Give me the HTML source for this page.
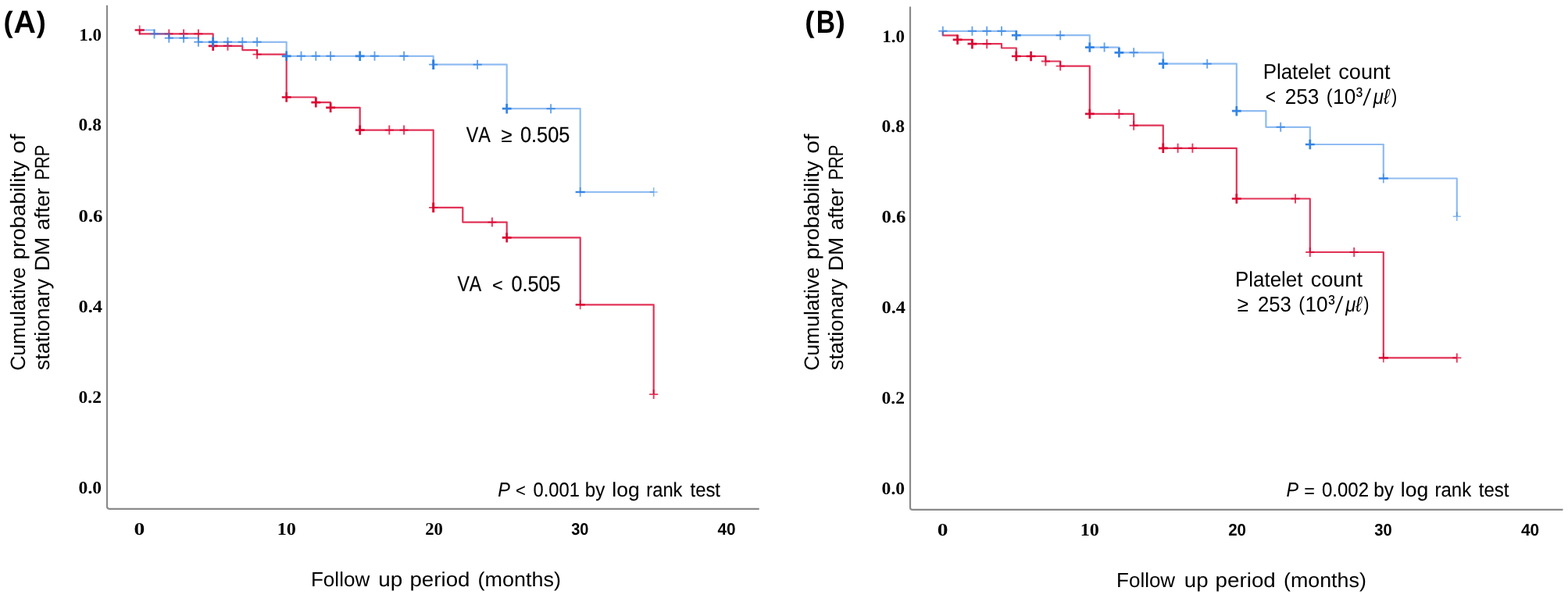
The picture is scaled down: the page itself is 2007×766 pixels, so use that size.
<!DOCTYPE html>
<html lang="en">
<head>
<meta charset="utf-8">
<title>Kaplan-Meier curves: cumulative probability of stationary DM after PRP</title>
<style>
html,body{margin:0;padding:0;background:#fff;}
body{width:2007px;height:766px;overflow:hidden;font-family:"Liberation Sans",sans-serif;}
svg{display:block;filter:blur(0.5px);}
text{white-space:pre;font-kerning:none;font-variant-ligatures:none;text-rendering:geometricPrecision;}
</style>
</head>
<body>
<svg width="2007" height="766" viewBox="0 0 2007 766">
<rect width="2007" height="766" fill="#fff"/>
<g id="chartA">
<path d="M137.00,6.70 V648.80 Q137.00,651.80 140.00,651.80 H971.70" fill="none" stroke="#8a8a8a" stroke-width="2.2" stroke-linejoin="round" stroke-linecap="butt"/>
<path d="M178.70,38.50 H178.70 V43.40 H272.70 V58.80 H310.30 V64.10 H329.10 V69.60 H366.70 V124.50 H404.30 V131.20 H423.10 V137.90 H460.70 V166.60 H554.70 V265.90 H592.30 V284.60 H648.70 V304.40 H742.70 V390.30 H836.70 V505.10" fill="none" stroke="#da002d" stroke-opacity="0.8" stroke-width="2.2" stroke-linejoin="round"/>
<path d="M210.70,43.40 H221.90 M216.30,37.40 V49.40" stroke="#da002d" stroke-opacity="0.77" stroke-width="1.9" fill="none"/>
<path d="M229.50,43.40 H240.70 M235.10,37.40 V49.40" stroke="#da002d" stroke-opacity="0.77" stroke-width="1.9" fill="none"/>
<path d="M248.30,43.40 H259.50 M253.90,37.40 V49.40" stroke="#da002d" stroke-opacity="0.77" stroke-width="1.9" fill="none"/>
<path d="M266.80,58.80 H278.60 M272.70,52.60 V65.00" stroke="#da002d" stroke-opacity="0.95" stroke-width="2.7" fill="none"/>
<path d="M285.90,58.80 H297.10 M291.50,52.80 V64.80" stroke="#da002d" stroke-opacity="0.77" stroke-width="1.9" fill="none"/>
<path d="M323.50,69.60 H334.70 M329.10,63.60 V75.60" stroke="#da002d" stroke-opacity="0.77" stroke-width="1.9" fill="none"/>
<path d="M360.80,124.50 H372.60 M366.70,118.30 V130.70" stroke="#da002d" stroke-opacity="0.95" stroke-width="2.7" fill="none"/>
<path d="M398.40,131.20 H410.20 M404.30,125.00 V137.40" stroke="#da002d" stroke-opacity="0.95" stroke-width="2.7" fill="none"/>
<path d="M417.20,137.90 H429.00 M423.10,131.70 V144.10" stroke="#da002d" stroke-opacity="0.95" stroke-width="2.7" fill="none"/>
<path d="M454.80,166.60 H466.60 M460.70,160.40 V172.80" stroke="#da002d" stroke-opacity="0.95" stroke-width="2.7" fill="none"/>
<path d="M492.70,166.60 H503.90 M498.30,160.60 V172.60" stroke="#da002d" stroke-opacity="0.77" stroke-width="1.9" fill="none"/>
<path d="M511.50,166.60 H522.70 M517.10,160.60 V172.60" stroke="#da002d" stroke-opacity="0.77" stroke-width="1.9" fill="none"/>
<path d="M549.10,265.90 H560.30 M554.70,259.90 V271.90" stroke="#da002d" stroke-opacity="0.8200000000000001" stroke-width="1.7" fill="none"/>
<path d="M554.70,259.60 V272.20" stroke="#da002d" stroke-opacity="0.95" stroke-width="3" fill="none"/>
<path d="M624.30,284.60 H635.50 M629.90,278.60 V290.60" stroke="#da002d" stroke-opacity="0.77" stroke-width="1.9" fill="none"/>
<path d="M642.80,304.40 H654.60 M648.70,298.20 V310.60" stroke="#da002d" stroke-opacity="0.95" stroke-width="2.7" fill="none"/>
<path d="M737.10,390.30 H748.30 M742.70,384.40 V396.20" stroke="#da002d" stroke-opacity="0.72" stroke-width="1.7" fill="none"/>
<path d="M736.60,390.30 H748.80" stroke="#da002d" stroke-opacity="0.85" stroke-width="2.4" fill="none"/>
<path d="M831.10,505.10 H842.30 M836.70,499.10 V511.10" stroke="#da002d" stroke-opacity="0.77" stroke-width="1.9" fill="none"/>
<path d="M178.70,38.50 H197.50 V43.40 H216.30 V48.70 H253.90 V53.80 H366.70 V71.80 H554.70 V82.70 H648.70 V139.20 H742.70 V246.00 H836.70" fill="none" stroke="#2a7ee4" stroke-opacity="0.52" stroke-width="2.2" stroke-linejoin="round"/>
<path d="M191.90,43.40 H203.10 M197.50,37.40 V49.40" stroke="#2a7ee4" stroke-opacity="0.7000000000000001" stroke-width="1.9" fill="none"/>
<path d="M210.70,48.70 H221.90 M216.30,42.70 V54.70" stroke="#2a7ee4" stroke-opacity="0.7000000000000001" stroke-width="1.9" fill="none"/>
<path d="M229.50,48.70 H240.70 M235.10,42.70 V54.70" stroke="#2a7ee4" stroke-opacity="0.7000000000000001" stroke-width="1.9" fill="none"/>
<path d="M248.30,53.80 H259.50 M253.90,47.80 V59.80" stroke="#2a7ee4" stroke-opacity="0.7000000000000001" stroke-width="1.9" fill="none"/>
<path d="M266.80,53.80 H278.60 M272.70,47.60 V60.00" stroke="#2a7ee4" stroke-opacity="0.95" stroke-width="2.7" fill="none"/>
<path d="M285.90,53.80 H297.10 M291.50,47.80 V59.80" stroke="#2a7ee4" stroke-opacity="0.7000000000000001" stroke-width="1.9" fill="none"/>
<path d="M304.70,53.80 H315.90 M310.30,47.80 V59.80" stroke="#2a7ee4" stroke-opacity="0.7000000000000001" stroke-width="1.9" fill="none"/>
<path d="M323.50,53.80 H334.70 M329.10,47.80 V59.80" stroke="#2a7ee4" stroke-opacity="0.7000000000000001" stroke-width="1.9" fill="none"/>
<path d="M360.80,71.80 H372.60 M366.70,65.60 V78.00" stroke="#2a7ee4" stroke-opacity="0.95" stroke-width="2.7" fill="none"/>
<path d="M379.90,71.80 H391.10 M385.50,65.80 V77.80" stroke="#2a7ee4" stroke-opacity="0.7000000000000001" stroke-width="1.9" fill="none"/>
<path d="M398.70,71.80 H409.90 M404.30,65.80 V77.80" stroke="#2a7ee4" stroke-opacity="0.7000000000000001" stroke-width="1.9" fill="none"/>
<path d="M417.50,71.80 H428.70 M423.10,65.80 V77.80" stroke="#2a7ee4" stroke-opacity="0.7000000000000001" stroke-width="1.9" fill="none"/>
<path d="M454.80,71.80 H466.60 M460.70,65.60 V78.00" stroke="#2a7ee4" stroke-opacity="0.95" stroke-width="2.7" fill="none"/>
<path d="M473.90,71.80 H485.10 M479.50,65.80 V77.80" stroke="#2a7ee4" stroke-opacity="0.7000000000000001" stroke-width="1.9" fill="none"/>
<path d="M511.50,71.80 H522.70 M517.10,65.80 V77.80" stroke="#2a7ee4" stroke-opacity="0.7000000000000001" stroke-width="1.9" fill="none"/>
<path d="M549.10,82.70 H560.30 M554.70,76.70 V88.70" stroke="#2a7ee4" stroke-opacity="0.75" stroke-width="1.7" fill="none"/>
<path d="M554.70,76.40 V89.00" stroke="#2a7ee4" stroke-opacity="0.95" stroke-width="3" fill="none"/>
<path d="M605.50,82.70 H616.70 M611.10,76.70 V88.70" stroke="#2a7ee4" stroke-opacity="0.7000000000000001" stroke-width="1.9" fill="none"/>
<path d="M642.80,139.20 H654.60 M648.70,133.00 V145.40" stroke="#2a7ee4" stroke-opacity="0.95" stroke-width="2.7" fill="none"/>
<path d="M699.50,139.20 H710.70 M705.10,133.20 V145.20" stroke="#2a7ee4" stroke-opacity="0.7000000000000001" stroke-width="1.9" fill="none"/>
<path d="M737.10,246.00 H748.30 M742.70,240.10 V251.90" stroke="#2a7ee4" stroke-opacity="0.65" stroke-width="1.7" fill="none"/>
<path d="M736.60,246.00 H748.80" stroke="#2a7ee4" stroke-opacity="0.85" stroke-width="2.4" fill="none"/>
<path d="M831.70,246.00 H841.70 M836.70,240.30 V251.70" stroke="#2a7ee4" stroke-opacity="0.55" stroke-width="1.6" fill="none"/>
<path d="M173.10,38.50 H184.30 M178.70,32.60 V44.40" stroke="#da002d" stroke-opacity="0.72" stroke-width="1.7" fill="none"/>
<path d="M172.60,38.50 H184.80" stroke="#da002d" stroke-opacity="0.85" stroke-width="2.4" fill="none"/>
<text y="42.00" font-family='"Liberation Sans", sans-serif' font-size="41.0" font-weight="bold" font-style="normal" fill="#000"><tspan x="4.48" textLength="12.15" lengthAdjust="spacingAndGlyphs" font-size="37.5" dy="-1.00">(</tspan><tspan x="17.52" textLength="28.42" lengthAdjust="spacingAndGlyphs" dy="1.00">A</tspan><tspan x="46.76" textLength="12.04" lengthAdjust="spacingAndGlyphs" font-size="37.5" dy="-1.00">)</tspan></text>
<text y="52.30" font-family='"Liberation Serif", serif' font-size="22.4" font-weight="bold" font-style="normal" fill="#000"><tspan x="101.25" textLength="28.82" lengthAdjust="spacingAndGlyphs">1.0</tspan></text>
<text y="167.20" font-family='"Liberation Serif", serif' font-size="22.4" font-weight="bold" font-style="normal" fill="#000"><tspan x="100.60" textLength="29.38" lengthAdjust="spacingAndGlyphs">0.8</tspan></text>
<text y="283.50" font-family='"Liberation Serif", serif' font-size="22.4" font-weight="bold" font-style="normal" fill="#000"><tspan x="100.56" textLength="30.97" lengthAdjust="spacingAndGlyphs">0.6</tspan></text>
<text y="399.80" font-family='"Liberation Serif", serif' font-size="22.4" font-weight="bold" font-style="normal" fill="#000"><tspan x="100.57" textLength="30.48" lengthAdjust="spacingAndGlyphs">0.4</tspan></text>
<text y="516.00" font-family='"Liberation Serif", serif' font-size="22.4" font-weight="bold" font-style="normal" fill="#000"><tspan x="100.60" textLength="29.41" lengthAdjust="spacingAndGlyphs">0.2</tspan></text>
<text y="632.20" font-family='"Liberation Serif", serif' font-size="22.4" font-weight="bold" font-style="normal" fill="#000"><tspan x="100.60" textLength="29.50" lengthAdjust="spacingAndGlyphs">0.0</tspan></text>
<text y="684.80" font-family='"Liberation Serif", serif' font-size="22.7" font-weight="bold" font-style="normal" fill="#000"><tspan x="171.45" textLength="13.80" lengthAdjust="spacingAndGlyphs">0</tspan></text>
<text y="684.80" font-family='"Liberation Serif", serif' font-size="22.7" font-weight="bold" font-style="normal" fill="#000"><tspan x="354.67" textLength="24.15" lengthAdjust="spacingAndGlyphs">10</tspan></text>
<text y="684.80" font-family='"Liberation Serif", serif' font-size="22.7" font-weight="bold" font-style="normal" fill="#000"><tspan x="544.15" textLength="22.72" lengthAdjust="spacingAndGlyphs">20</tspan></text>
<text y="684.80" font-family='"Liberation Sans", sans-serif' font-size="21.5" font-weight="bold" font-style="normal" fill="#000"><tspan x="731.19" textLength="22.23" lengthAdjust="spacingAndGlyphs">30</tspan></text>
<text y="684.80" font-family='"Liberation Sans", sans-serif' font-size="21.5" font-weight="bold" font-style="normal" fill="#000"><tspan x="918.44" textLength="23.12" lengthAdjust="spacingAndGlyphs">40</tspan></text>
<text y="181.90" font-family='"Liberation Sans", sans-serif' font-size="28" font-weight="normal" font-style="normal" fill="#000" stroke="#000" stroke-width="0.2"><tspan x="596.80" textLength="31.15" lengthAdjust="spacingAndGlyphs">VA</tspan> <tspan x="641.39" textLength="14.01" lengthAdjust="spacingAndGlyphs" font-size="26">≥</tspan> <tspan x="665.91" textLength="63.46" lengthAdjust="spacingAndGlyphs">0.505</tspan></text>
<text y="372.70" font-family='"Liberation Sans", sans-serif' font-size="28" font-weight="normal" font-style="normal" fill="#000" stroke="#000" stroke-width="0.2"><tspan x="585.40" textLength="30.85" lengthAdjust="spacingAndGlyphs">VA</tspan> <tspan x="629.94" textLength="13.70" lengthAdjust="spacingAndGlyphs" font-size="22.6">&lt;</tspan> <tspan x="654.51" textLength="63.15" lengthAdjust="spacingAndGlyphs">0.505</tspan></text>
<text y="636.45" font-family='"Liberation Sans", sans-serif' font-size="25.7" font-weight="normal" font-style="normal" fill="#000" stroke="#000" stroke-width="0.1"><tspan x="637.18" textLength="15.67" lengthAdjust="spacingAndGlyphs" font-style="italic">P</tspan> <tspan x="660.01" textLength="12.86" lengthAdjust="spacingAndGlyphs" font-size="23">&lt;</tspan> <tspan x="682.57" textLength="59.39" lengthAdjust="spacingAndGlyphs">0.001</tspan> <tspan x="748.84" textLength="25.50" lengthAdjust="spacingAndGlyphs">by</tspan> <tspan x="783.31" textLength="35.40" lengthAdjust="spacingAndGlyphs">log</tspan> <tspan x="827.32" textLength="46.14" lengthAdjust="spacingAndGlyphs">rank</tspan> <tspan x="883.54" textLength="38.44" lengthAdjust="spacingAndGlyphs">test</tspan></text>
<text y="751.10" font-family='"Liberation Sans", sans-serif' font-size="26" font-weight="normal" font-style="normal" fill="#000"><tspan x="397.96" textLength="75.27" lengthAdjust="spacingAndGlyphs">Follow</tspan> <tspan x="484.39" textLength="30.98" lengthAdjust="spacingAndGlyphs">up</tspan> <tspan x="524.41" textLength="77.07" lengthAdjust="spacingAndGlyphs">period</tspan> <tspan x="611.53" textLength="106.45" lengthAdjust="spacingAndGlyphs">(months)</tspan></text>
<text transform="translate(32.20,473.50) rotate(-90)" y="0" font-family='"Liberation Sans", sans-serif' font-size="26.5" font-weight="normal" font-style="normal" fill="#000"><tspan x="-1.35" textLength="132.73" lengthAdjust="spacingAndGlyphs">Cumulative</tspan> <tspan x="141.01" textLength="126.54" lengthAdjust="spacingAndGlyphs">probability</tspan> <tspan x="276.73" textLength="25.23" lengthAdjust="spacingAndGlyphs">of</tspan></text>
<text transform="translate(62.90,473.50) rotate(-90)" y="0" font-family='"Liberation Sans", sans-serif' font-size="26.5" font-weight="normal" font-style="normal" fill="#000"><tspan x="-0.75" textLength="117.31" lengthAdjust="spacingAndGlyphs">stationary</tspan> <tspan x="126.31" textLength="43.38" lengthAdjust="spacingAndGlyphs">DM</tspan> <tspan x="178.65" textLength="53.99" lengthAdjust="spacingAndGlyphs">after</tspan> <tspan x="242.91" textLength="44.95" lengthAdjust="spacingAndGlyphs">PRP</tspan></text>
</g>
<g id="chartB">
<path d="M1165.00,8.40 V649.90 Q1165.00,652.90 1168.00,652.90 H2000.50" fill="none" stroke="#8a8a8a" stroke-width="2.2" stroke-linejoin="round" stroke-linecap="butt"/>
<path d="M1206.80,39.80 H1206.80 V45.30 H1225.60 V50.80 H1244.40 V56.20 H1282.00 V61.50 H1300.80 V72.00 H1338.40 V78.50 H1357.20 V84.60 H1394.80 V145.90 H1451.20 V160.70 H1488.80 V189.80 H1582.80 V254.50 H1676.80 V323.00 H1770.80 V458.40 H1864.80" fill="none" stroke="#da002d" stroke-opacity="0.8" stroke-width="2.2" stroke-linejoin="round"/>
<path d="M1219.70,50.80 H1231.50 M1225.60,44.60 V57.00" stroke="#da002d" stroke-opacity="0.95" stroke-width="2.7" fill="none"/>
<path d="M1238.50,56.20 H1250.30 M1244.40,50.00 V62.40" stroke="#da002d" stroke-opacity="0.95" stroke-width="2.7" fill="none"/>
<path d="M1257.60,56.20 H1268.80 M1263.20,50.20 V62.20" stroke="#da002d" stroke-opacity="0.77" stroke-width="1.9" fill="none"/>
<path d="M1294.90,72.00 H1306.70 M1300.80,65.80 V78.20" stroke="#da002d" stroke-opacity="0.95" stroke-width="2.7" fill="none"/>
<path d="M1313.70,72.00 H1325.50 M1319.60,65.80 V78.20" stroke="#da002d" stroke-opacity="0.95" stroke-width="2.7" fill="none"/>
<path d="M1332.80,78.50 H1344.00 M1338.40,72.50 V84.50" stroke="#da002d" stroke-opacity="0.77" stroke-width="1.9" fill="none"/>
<path d="M1351.60,84.60 H1362.80 M1357.20,78.60 V90.60" stroke="#da002d" stroke-opacity="0.77" stroke-width="1.9" fill="none"/>
<path d="M1388.90,145.90 H1400.70 M1394.80,139.70 V152.10" stroke="#da002d" stroke-opacity="0.95" stroke-width="2.7" fill="none"/>
<path d="M1426.80,145.90 H1438.00 M1432.40,139.90 V151.90" stroke="#da002d" stroke-opacity="0.77" stroke-width="1.9" fill="none"/>
<path d="M1445.60,160.70 H1456.80 M1451.20,154.70 V166.70" stroke="#da002d" stroke-opacity="0.77" stroke-width="1.9" fill="none"/>
<path d="M1482.90,189.80 H1494.70 M1488.80,183.60 V196.00" stroke="#da002d" stroke-opacity="0.95" stroke-width="2.7" fill="none"/>
<path d="M1502.00,189.80 H1513.20 M1507.60,183.80 V195.80" stroke="#da002d" stroke-opacity="0.77" stroke-width="1.9" fill="none"/>
<path d="M1520.80,189.80 H1532.00 M1526.40,183.80 V195.80" stroke="#da002d" stroke-opacity="0.77" stroke-width="1.9" fill="none"/>
<path d="M1576.90,254.50 H1588.70 M1582.80,248.30 V260.70" stroke="#da002d" stroke-opacity="0.95" stroke-width="2.7" fill="none"/>
<path d="M1652.40,254.50 H1663.60 M1658.00,248.50 V260.50" stroke="#da002d" stroke-opacity="0.77" stroke-width="1.9" fill="none"/>
<path d="M1671.20,323.00 H1682.40 M1676.80,317.00 V329.00" stroke="#da002d" stroke-opacity="0.77" stroke-width="1.9" fill="none"/>
<path d="M1727.60,323.00 H1738.80 M1733.20,317.00 V329.00" stroke="#da002d" stroke-opacity="0.77" stroke-width="1.9" fill="none"/>
<path d="M1765.20,458.40 H1776.40 M1770.80,452.50 V464.30" stroke="#da002d" stroke-opacity="0.72" stroke-width="1.7" fill="none"/>
<path d="M1764.70,458.40 H1776.90" stroke="#da002d" stroke-opacity="0.85" stroke-width="2.4" fill="none"/>
<path d="M1859.20,458.40 H1870.40 M1864.80,452.40 V464.40" stroke="#da002d" stroke-opacity="0.77" stroke-width="1.9" fill="none"/>
<path d="M1206.80,39.80 H1300.80 V45.20 H1394.80 V60.60 H1432.40 V67.30 H1488.80 V81.70 H1582.80 V142.20 H1620.40 V162.80 H1676.80 V185.00 H1770.80 V228.50 H1864.80 V277.20" fill="none" stroke="#2a7ee4" stroke-opacity="0.52" stroke-width="2.2" stroke-linejoin="round"/>
<path d="M1201.20,39.80 H1212.40 M1206.80,33.80 V45.80" stroke="#2a7ee4" stroke-opacity="0.7000000000000001" stroke-width="1.9" fill="none"/>
<path d="M1238.80,39.80 H1250.00 M1244.40,33.80 V45.80" stroke="#2a7ee4" stroke-opacity="0.7000000000000001" stroke-width="1.9" fill="none"/>
<path d="M1257.60,39.80 H1268.80 M1263.20,33.80 V45.80" stroke="#2a7ee4" stroke-opacity="0.7000000000000001" stroke-width="1.9" fill="none"/>
<path d="M1276.40,39.80 H1287.60 M1282.00,33.80 V45.80" stroke="#2a7ee4" stroke-opacity="0.7000000000000001" stroke-width="1.9" fill="none"/>
<path d="M1294.90,45.20 H1306.70 M1300.80,39.00 V51.40" stroke="#2a7ee4" stroke-opacity="0.95" stroke-width="2.7" fill="none"/>
<path d="M1351.60,45.20 H1362.80 M1357.20,39.20 V51.20" stroke="#2a7ee4" stroke-opacity="0.7000000000000001" stroke-width="1.9" fill="none"/>
<path d="M1388.90,60.60 H1400.70 M1394.80,54.40 V66.80" stroke="#2a7ee4" stroke-opacity="0.95" stroke-width="2.7" fill="none"/>
<path d="M1408.00,60.60 H1419.20 M1413.60,54.60 V66.60" stroke="#2a7ee4" stroke-opacity="0.7000000000000001" stroke-width="1.9" fill="none"/>
<path d="M1426.50,67.30 H1438.30 M1432.40,61.10 V73.50" stroke="#2a7ee4" stroke-opacity="0.95" stroke-width="2.7" fill="none"/>
<path d="M1445.60,67.30 H1456.80 M1451.20,61.30 V73.30" stroke="#2a7ee4" stroke-opacity="0.7000000000000001" stroke-width="1.9" fill="none"/>
<path d="M1482.90,81.70 H1494.70 M1488.80,75.50 V87.90" stroke="#2a7ee4" stroke-opacity="0.95" stroke-width="2.7" fill="none"/>
<path d="M1539.60,81.70 H1550.80 M1545.20,75.70 V87.70" stroke="#2a7ee4" stroke-opacity="0.7000000000000001" stroke-width="1.9" fill="none"/>
<path d="M1576.90,142.20 H1588.70 M1582.80,136.00 V148.40" stroke="#2a7ee4" stroke-opacity="0.95" stroke-width="2.7" fill="none"/>
<path d="M1633.60,162.80 H1644.80 M1639.20,156.80 V168.80" stroke="#2a7ee4" stroke-opacity="0.7000000000000001" stroke-width="1.9" fill="none"/>
<path d="M1670.90,185.00 H1682.70 M1676.80,178.80 V191.20" stroke="#2a7ee4" stroke-opacity="0.95" stroke-width="2.7" fill="none"/>
<path d="M1765.20,228.50 H1776.40 M1770.80,222.60 V234.40" stroke="#2a7ee4" stroke-opacity="0.65" stroke-width="1.7" fill="none"/>
<path d="M1764.70,228.50 H1776.90" stroke="#2a7ee4" stroke-opacity="0.85" stroke-width="2.4" fill="none"/>
<path d="M1859.80,277.20 H1869.80 M1864.80,271.50 V282.90" stroke="#2a7ee4" stroke-opacity="0.55" stroke-width="1.6" fill="none"/>
<text y="42.00" font-family='"Liberation Sans", sans-serif' font-size="41.0" font-weight="bold" font-style="normal" fill="#000"><tspan x="1030.16" textLength="12.27" lengthAdjust="spacingAndGlyphs" font-size="37.5" dy="-1.00">(</tspan><tspan x="1044.85" textLength="24.28" lengthAdjust="spacingAndGlyphs" dy="1.00">B</tspan><tspan x="1069.86" textLength="12.04" lengthAdjust="spacingAndGlyphs" font-size="37.5" dy="-1.00">)</tspan></text>
<text y="54.10" font-family='"Liberation Serif", serif' font-size="22.4" font-weight="bold" font-style="normal" fill="#000"><tspan x="1129.25" textLength="28.82" lengthAdjust="spacingAndGlyphs">1.0</tspan></text>
<text y="168.80" font-family='"Liberation Serif", serif' font-size="22.4" font-weight="bold" font-style="normal" fill="#000"><tspan x="1128.60" textLength="29.38" lengthAdjust="spacingAndGlyphs">0.8</tspan></text>
<text y="285.00" font-family='"Liberation Serif", serif' font-size="22.4" font-weight="bold" font-style="normal" fill="#000"><tspan x="1128.56" textLength="30.97" lengthAdjust="spacingAndGlyphs">0.6</tspan></text>
<text y="401.00" font-family='"Liberation Serif", serif' font-size="22.4" font-weight="bold" font-style="normal" fill="#000"><tspan x="1128.57" textLength="30.48" lengthAdjust="spacingAndGlyphs">0.4</tspan></text>
<text y="517.40" font-family='"Liberation Serif", serif' font-size="22.4" font-weight="bold" font-style="normal" fill="#000"><tspan x="1128.60" textLength="29.41" lengthAdjust="spacingAndGlyphs">0.2</tspan></text>
<text y="633.30" font-family='"Liberation Serif", serif' font-size="22.4" font-weight="bold" font-style="normal" fill="#000"><tspan x="1128.60" textLength="29.50" lengthAdjust="spacingAndGlyphs">0.0</tspan></text>
<text y="685.80" font-family='"Liberation Serif", serif' font-size="22.7" font-weight="bold" font-style="normal" fill="#000"><tspan x="1199.66" textLength="13.68" lengthAdjust="spacingAndGlyphs">0</tspan></text>
<text y="685.80" font-family='"Liberation Serif", serif' font-size="22.7" font-weight="bold" font-style="normal" fill="#000"><tspan x="1382.67" textLength="24.15" lengthAdjust="spacingAndGlyphs">10</tspan></text>
<text y="685.80" font-family='"Liberation Sans", sans-serif' font-size="21.5" font-weight="bold" font-style="normal" fill="#000"><tspan x="1572.14" textLength="22.80" lengthAdjust="spacingAndGlyphs">20</tspan></text>
<text y="685.80" font-family='"Liberation Sans", sans-serif' font-size="21.5" font-weight="bold" font-style="normal" fill="#000"><tspan x="1759.29" textLength="22.44" lengthAdjust="spacingAndGlyphs">30</tspan></text>
<text y="685.80" font-family='"Liberation Sans", sans-serif' font-size="21.5" font-weight="bold" font-style="normal" fill="#000"><tspan x="1947.03" textLength="23.22" lengthAdjust="spacingAndGlyphs">40</tspan></text>
<text y="100.50" font-family='"Liberation Sans", sans-serif' font-size="27.2" font-weight="normal" font-style="normal" fill="#000"><tspan x="1616.67" textLength="86.42" lengthAdjust="spacingAndGlyphs">Platelet</tspan> <tspan x="1713.25" textLength="66.35" lengthAdjust="spacingAndGlyphs">count</tspan></text>
<text y="132.70" font-family='"Liberation Sans", sans-serif' font-size="27.2" font-weight="normal" font-style="normal" fill="#000"><tspan x="1619.78" textLength="13.22" lengthAdjust="spacingAndGlyphs">&lt;</tspan> <tspan x="1644.68" textLength="43.67" lengthAdjust="spacingAndGlyphs">253</tspan> <tspan x="1697.75" textLength="7.79" lengthAdjust="spacingAndGlyphs" font-size="25.5" dy="-1.10">(</tspan><tspan x="1706.11" textLength="29.12" lengthAdjust="spacingAndGlyphs" dy="1.10">10</tspan><tspan x="1735.87" textLength="8.43" lengthAdjust="spacingAndGlyphs" font-size="29" dy="-1.00">³</tspan><tspan x="1745.64" textLength="7.07" lengthAdjust="spacingAndGlyphs" font-style="italic" font-size="30.2" dy="3.60">/</tspan><tspan x="1757.80" textLength="20.84" lengthAdjust="spacingAndGlyphs" font-style="italic" dy="-2.60">μℓ</tspan><tspan x="1780.97" textLength="7.28" lengthAdjust="spacingAndGlyphs" font-size="25.5" dy="-1.10">)</tspan></text>
<text y="367.40" font-family='"Liberation Sans", sans-serif' font-size="27.2" font-weight="normal" font-style="normal" fill="#000"><tspan x="1581.07" textLength="86.42" lengthAdjust="spacingAndGlyphs">Platelet</tspan> <tspan x="1677.65" textLength="66.35" lengthAdjust="spacingAndGlyphs">count</tspan></text>
<text y="398.70" font-family='"Liberation Sans", sans-serif' font-size="27.2" font-weight="normal" font-style="normal" fill="#000"><tspan x="1583.68" textLength="14.23" lengthAdjust="spacingAndGlyphs">≥</tspan> <tspan x="1609.91" textLength="42.92" lengthAdjust="spacingAndGlyphs">253</tspan> <tspan x="1662.15" textLength="7.79" lengthAdjust="spacingAndGlyphs" font-size="25.5" dy="-1.10">(</tspan><tspan x="1670.51" textLength="29.12" lengthAdjust="spacingAndGlyphs" dy="1.10">10</tspan><tspan x="1700.27" textLength="8.43" lengthAdjust="spacingAndGlyphs" font-size="29" dy="-1.00">³</tspan><tspan x="1710.04" textLength="7.07" lengthAdjust="spacingAndGlyphs" font-style="italic" font-size="30.2" dy="3.60">/</tspan><tspan x="1722.20" textLength="20.84" lengthAdjust="spacingAndGlyphs" font-style="italic" dy="-2.60">μℓ</tspan><tspan x="1745.37" textLength="7.28" lengthAdjust="spacingAndGlyphs" font-size="25.5" dy="-1.10">)</tspan></text>
<text y="636.45" font-family='"Liberation Sans", sans-serif' font-size="25.7" font-weight="normal" font-style="normal" fill="#000" stroke="#000" stroke-width="0.1"><tspan x="1646.48" textLength="15.57" lengthAdjust="spacingAndGlyphs" font-style="italic">P</tspan> <tspan x="1669.15" textLength="13.70" lengthAdjust="spacingAndGlyphs" font-size="24" dy="0.90">=</tspan> <tspan x="1692.06" textLength="59.94" lengthAdjust="spacingAndGlyphs" dy="-0.90">0.002</tspan> <tspan x="1758.33" textLength="25.72" lengthAdjust="spacingAndGlyphs">by</tspan> <tspan x="1792.81" textLength="35.40" lengthAdjust="spacingAndGlyphs">log</tspan> <tspan x="1836.51" textLength="46.66" lengthAdjust="spacingAndGlyphs">rank</tspan> <tspan x="1892.74" textLength="38.74" lengthAdjust="spacingAndGlyphs">test</tspan></text>
<text y="752.20" font-family='"Liberation Sans", sans-serif' font-size="26" font-weight="normal" font-style="normal" fill="#000"><tspan x="1429.07" textLength="75.07" lengthAdjust="spacingAndGlyphs">Follow</tspan> <tspan x="1515.80" textLength="30.76" lengthAdjust="spacingAndGlyphs">up</tspan> <tspan x="1555.61" textLength="77.18" lengthAdjust="spacingAndGlyphs">period</tspan> <tspan x="1642.94" textLength="105.93" lengthAdjust="spacingAndGlyphs">(months)</tspan></text>
<text transform="translate(1048.00,473.50) rotate(-90)" y="0" font-family='"Liberation Sans", sans-serif' font-size="26.5" font-weight="normal" font-style="normal" fill="#000"><tspan x="-1.35" textLength="132.73" lengthAdjust="spacingAndGlyphs">Cumulative</tspan> <tspan x="141.01" textLength="126.54" lengthAdjust="spacingAndGlyphs">probability</tspan> <tspan x="276.73" textLength="25.23" lengthAdjust="spacingAndGlyphs">of</tspan></text>
<text transform="translate(1079.00,473.50) rotate(-90)" y="0" font-family='"Liberation Sans", sans-serif' font-size="26.5" font-weight="normal" font-style="normal" fill="#000"><tspan x="-0.75" textLength="117.31" lengthAdjust="spacingAndGlyphs">stationary</tspan> <tspan x="126.31" textLength="43.38" lengthAdjust="spacingAndGlyphs">DM</tspan> <tspan x="178.65" textLength="53.99" lengthAdjust="spacingAndGlyphs">after</tspan> <tspan x="242.91" textLength="44.95" lengthAdjust="spacingAndGlyphs">PRP</tspan></text>
</g>
</svg>
</body>
</html>
